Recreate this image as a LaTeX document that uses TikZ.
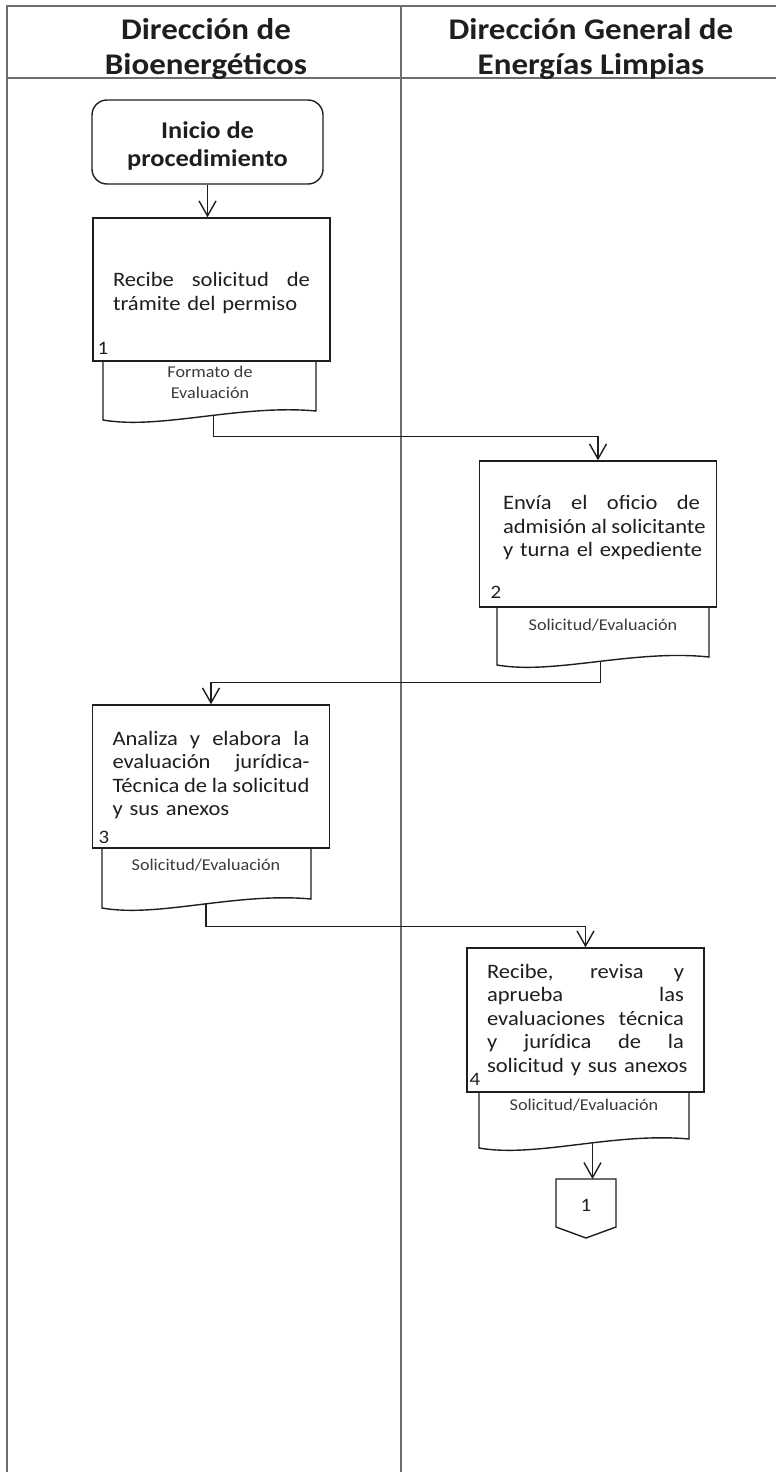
\documentclass[tikz,border=0pt]{standalone}
\usepackage{fontspec}
\setmainfont{Carlito}[FakeStretch=1.1]
\usetikzlibrary{arrows.meta,calc}
\definecolor{ink}{HTML}{1E1E1E}
\definecolor{framec}{HTML}{6E6E6E}
\definecolor{doctext}{HTML}{3A3A3A}
\newcommand\jline[1]{{\spaceskip=0.22em plus 1fil\relax\makebox[197pt][s]{#1}}\\}
\tikzset{
 lane/.style={draw=framec, line width=1.3pt},
 hdr/.style={font=\fontsize{30}{35}\selectfont\bfseries, text=ink, align=center, inner sep=0pt},
 startbox/.style={draw=ink, line width=1.4pt, rounded corners=15pt, minimum width=231pt, minimum height=84pt, font=\fontsize{24}{27}\selectfont\bfseries, align=center, text=ink, inner sep=0pt},
 procbox/.style={draw=ink, line width=1.4pt, minimum width=237pt, inner sep=0pt},
 proctext/.style={font=\fontsize{20.5}{23.5}\selectfont, text=ink, text width=197pt, align=left, inner sep=0pt},
 num/.style={font=\fontsize{19}{20}\selectfont, text=ink, inner sep=0pt},
 docpath/.style={draw=ink, line width=1.4pt},
 doctxt/.style={font=\fontsize{16.5}{21}\selectfont, text=doctext, align=center, inner sep=0pt},
 arr/.style={draw=ink, line width=1.4pt, -{Straight Barb[length=15pt,width=17pt,line width=1.4pt]}},
}
\begin{document}
\begin{tikzpicture}[x=1pt,y=-1pt]
\useasboundingbox (0,0) rectangle (776,1472);
% frame
\draw[lane] (780,6) -- (7,6) -- (7,1474);
\draw[lane] (7,78) -- (780,78);
\draw[lane] (401,6) -- (401,1474);
% headers
\node[hdr] (h1) at (206,49) {Dirección de\\Bioenergéticos};
\node[hdr] (h2) at (591,49) {Dirección General de\\Energías Limpias};
% start
\node[startbox, minimum height=84pt] (start) at (207.5,142) {};
\node[font=\fontsize{24}{27.5}\selectfont\bfseries, align=center, text=ink, inner sep=0pt] (st) at (207.5,146) {Inicio de\\procedimiento};
% box 1
\node[procbox, minimum height=143pt] (b1) at (211.5,289.5) {};
\node[proctext] (t1) at (211.5,293) {\jline{Recibe solicitud de}\mbox{trámite del permiso}};
\node[num] (n1) at (103,348) {1};
\draw[docpath] (103,361) -- (103,420) .. controls (160,430) and (240,404) .. coordinate[pos=0.55] (d1b) (316,411) -- (316,361);
\node[doctxt] (dt1) at (210,382) {Formato de\\Evaluación};
% box 2
\node[procbox, minimum height=146pt] (b2) at (598,534) {};
\node[proctext] (t2) at (601.5,528) {\jline{Envía el oficio de}\jline{admisión al solicitante}\mbox{y turna el expediente}};
\node[num] (n2) at (496,592) {2};
\draw[docpath] (497,607) -- (497,665) .. controls (554,675) and (634,649) .. coordinate[pos=0.52] (d2b) (709,657) -- (709,607);
\node[doctxt] (dt2) at (603,625) {Solicitud/Evaluación};
% box 3
\node[procbox, minimum height=143pt] (b3) at (211,776.5) {};
\node[proctext] (t3) at (211,775) {\jline{Analiza y elabora la}\jline{evaluación jurídica-}\jline{Técnica de la solicitud}\mbox{y sus anexos}};
\node[num] (n3) at (104,837) {3};
\draw[docpath] (102,848) -- (102,908) .. controls (158,918) and (236,892) .. coordinate[pos=0.53] (d3b) (311,899) -- (311,848);
\node[doctxt] (dt3) at (206,865) {Solicitud/Evaluación};
% box 4
\node[procbox, minimum height=144pt] (b4) at (585.5,1020) {};
\node[proctext] (t4) at (585.5,1020) {\jline{Recibe, revisa y}\jline{aprueba las}\jline{evaluaciones técnica}\jline{y jurídica de la}\mbox{solicitud y sus anexos}};
\node[num] (n4) at (475,1079) {4};
\draw[docpath] (479,1092) -- (479,1148) .. controls (536,1158) and (614,1132) .. coordinate[pos=0.57] (d4b) (689,1139) -- (689,1092);
\node[doctxt] (dt4) at (584,1105) {Solicitud/Evaluación};
% off-page connector
\coordinate (optop) at (586,1179);
\draw[docpath] (556,1179) -- (616,1179) -- (616,1227) -- (586,1238) -- (556,1227) -- cycle;
\node[num] (op) at (586,1205) {1};
% connectors
\draw[arr] (start.south) -- (start.south |- b1.north);
\draw[arr] (d1b) |- ($(b2.north)+(0,-24)$) -- (b2.north);
\draw[arr] (d2b) |- ($(b3.north)+(0,-22)$) -- (b3.north);
\draw[arr] (d3b) |- ($(b4.north)+(0,-21)$) -- (b4.north);
\draw[arr] (d4b) -- (d4b |- optop);
\end{tikzpicture}
\end{document}
